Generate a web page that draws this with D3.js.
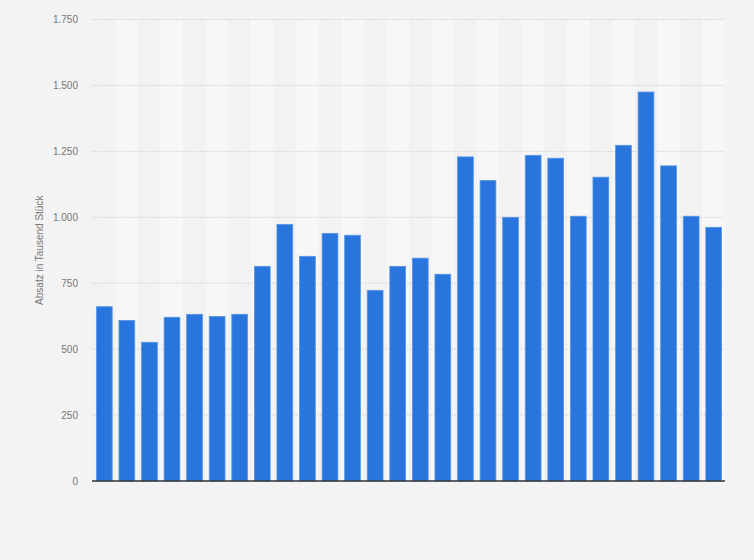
<!DOCTYPE html>
<html>
<head>
<meta charset="utf-8">
<script src="https://cdn.jsdelivr.net/npm/d3@7"></script>
<style>
  body { margin: 0; background: #f3f3f3; }
  svg { display: block; font-family: "Liberation Sans", Arial, sans-serif; }
</style>
</head>
<body>
<div id="chart"></div>
<script>
// Absatz in Tausend Stück, one bar per period (no x labels shown)
let periods = d3.range(1, 29)
let sales = [661, 609, 526, 621, 632, 624, 632, 814, 973, 852, 939, 932, 723, 814,
             845, 784, 1229, 1140, 1000, 1235, 1224, 1004, 1152, 1273, 1475, 1195, 1004, 962]
let yTicks = [0, 250, 500, 750, 1000, 1250, 1500, 1750]
let yLabel = "Absatz in Tausend Stück"

let width = 754
let height = 560
let margin = {left: 93, right: 29, top: 19.5, bottom: 79}

const svg = d3.select("#chart")
              .append("svg")
              .attr("width", width)
              .attr("height", height)

svg.append("rect")
   .attr("width", width)
   .attr("height", height)
   .attr("fill", "#f3f3f3")

let x = d3.scaleBand()
          .domain(periods)
          .range([margin.left, width - margin.right])
          .paddingInner(0.3)
          .paddingOuter(0.15)

let y = d3.scaleLinear()
          .domain([0, 1750])
          .range([height - margin.bottom, margin.top])

// alternating column stripes
let step = x.step()
svg.append("g")
   .selectAll("rect")
   .data(periods)
   .enter()
   .append("rect")
   .attr("x", d => x(d) - step * x.paddingInner() / 2)
   .attr("width", step)
   .attr("y", y(1750))
   .attr("height", y(0) - y(1750))
   .attr("fill", (d, i) => i % 2 ? "#f7f7f7" : "#f2f2f2")

// gridlines
svg.append("g")
   .selectAll("line")
   .data(yTicks.filter(t => t > 0))
   .enter()
   .append("line")
   .attr("x1", margin.left - 1)
   .attr("x2", width - margin.right)
   .attr("y1", d => y(d))
   .attr("y2", d => y(d))
   .attr("stroke", "#d0d0d0")
   .attr("stroke-width", 1)
   .attr("stroke-dasharray", "1.5,1.5")

// y axis
let yAxis = d3.axisLeft(y)
              .tickValues(yTicks)
              .tickSize(0)
              .tickPadding(15)
              .tickFormat(d => d3.format(",")(d).replace(/,/g, "."))

svg.append("g")
   .attr("transform", `translate(${margin.left},0)`)
   .call(yAxis)
   .call(g => g.select(".domain").remove())
   .selectAll("text")
   .attr("fill", "#777")
   .attr("font-size", "10px")
   .attr("font-family", "Liberation Sans, Arial, sans-serif")

// bars
svg.append("g")
   .selectAll("rect")
   .data(sales)
   .enter()
   .append("rect")
   .attr("x", (d, i) => x(periods[i]))
   .attr("width", x.bandwidth())
   .attr("y", d => y(d))
   .attr("height", d => y(0) - y(d))
   .attr("fill", "#2876dd")
   .attr("stroke", "#5a96e6")
   .attr("stroke-width", 0.8)

// baseline
svg.append("line")
   .attr("x1", margin.left - 1)
   .attr("x2", width - margin.right)
   .attr("y1", y(0))
   .attr("y2", y(0))
   .attr("stroke", "#333")
   .attr("stroke-width", 1.5)

// axis title
svg.append("text")
   .attr("transform", `translate(43,${(y(0) + y(1750)) / 2}) rotate(-90)`)
   .attr("text-anchor", "middle")
   .attr("fill", "#777")
   .attr("font-size", "10px")
   .text(yLabel)
</script>
</body>
</html>
